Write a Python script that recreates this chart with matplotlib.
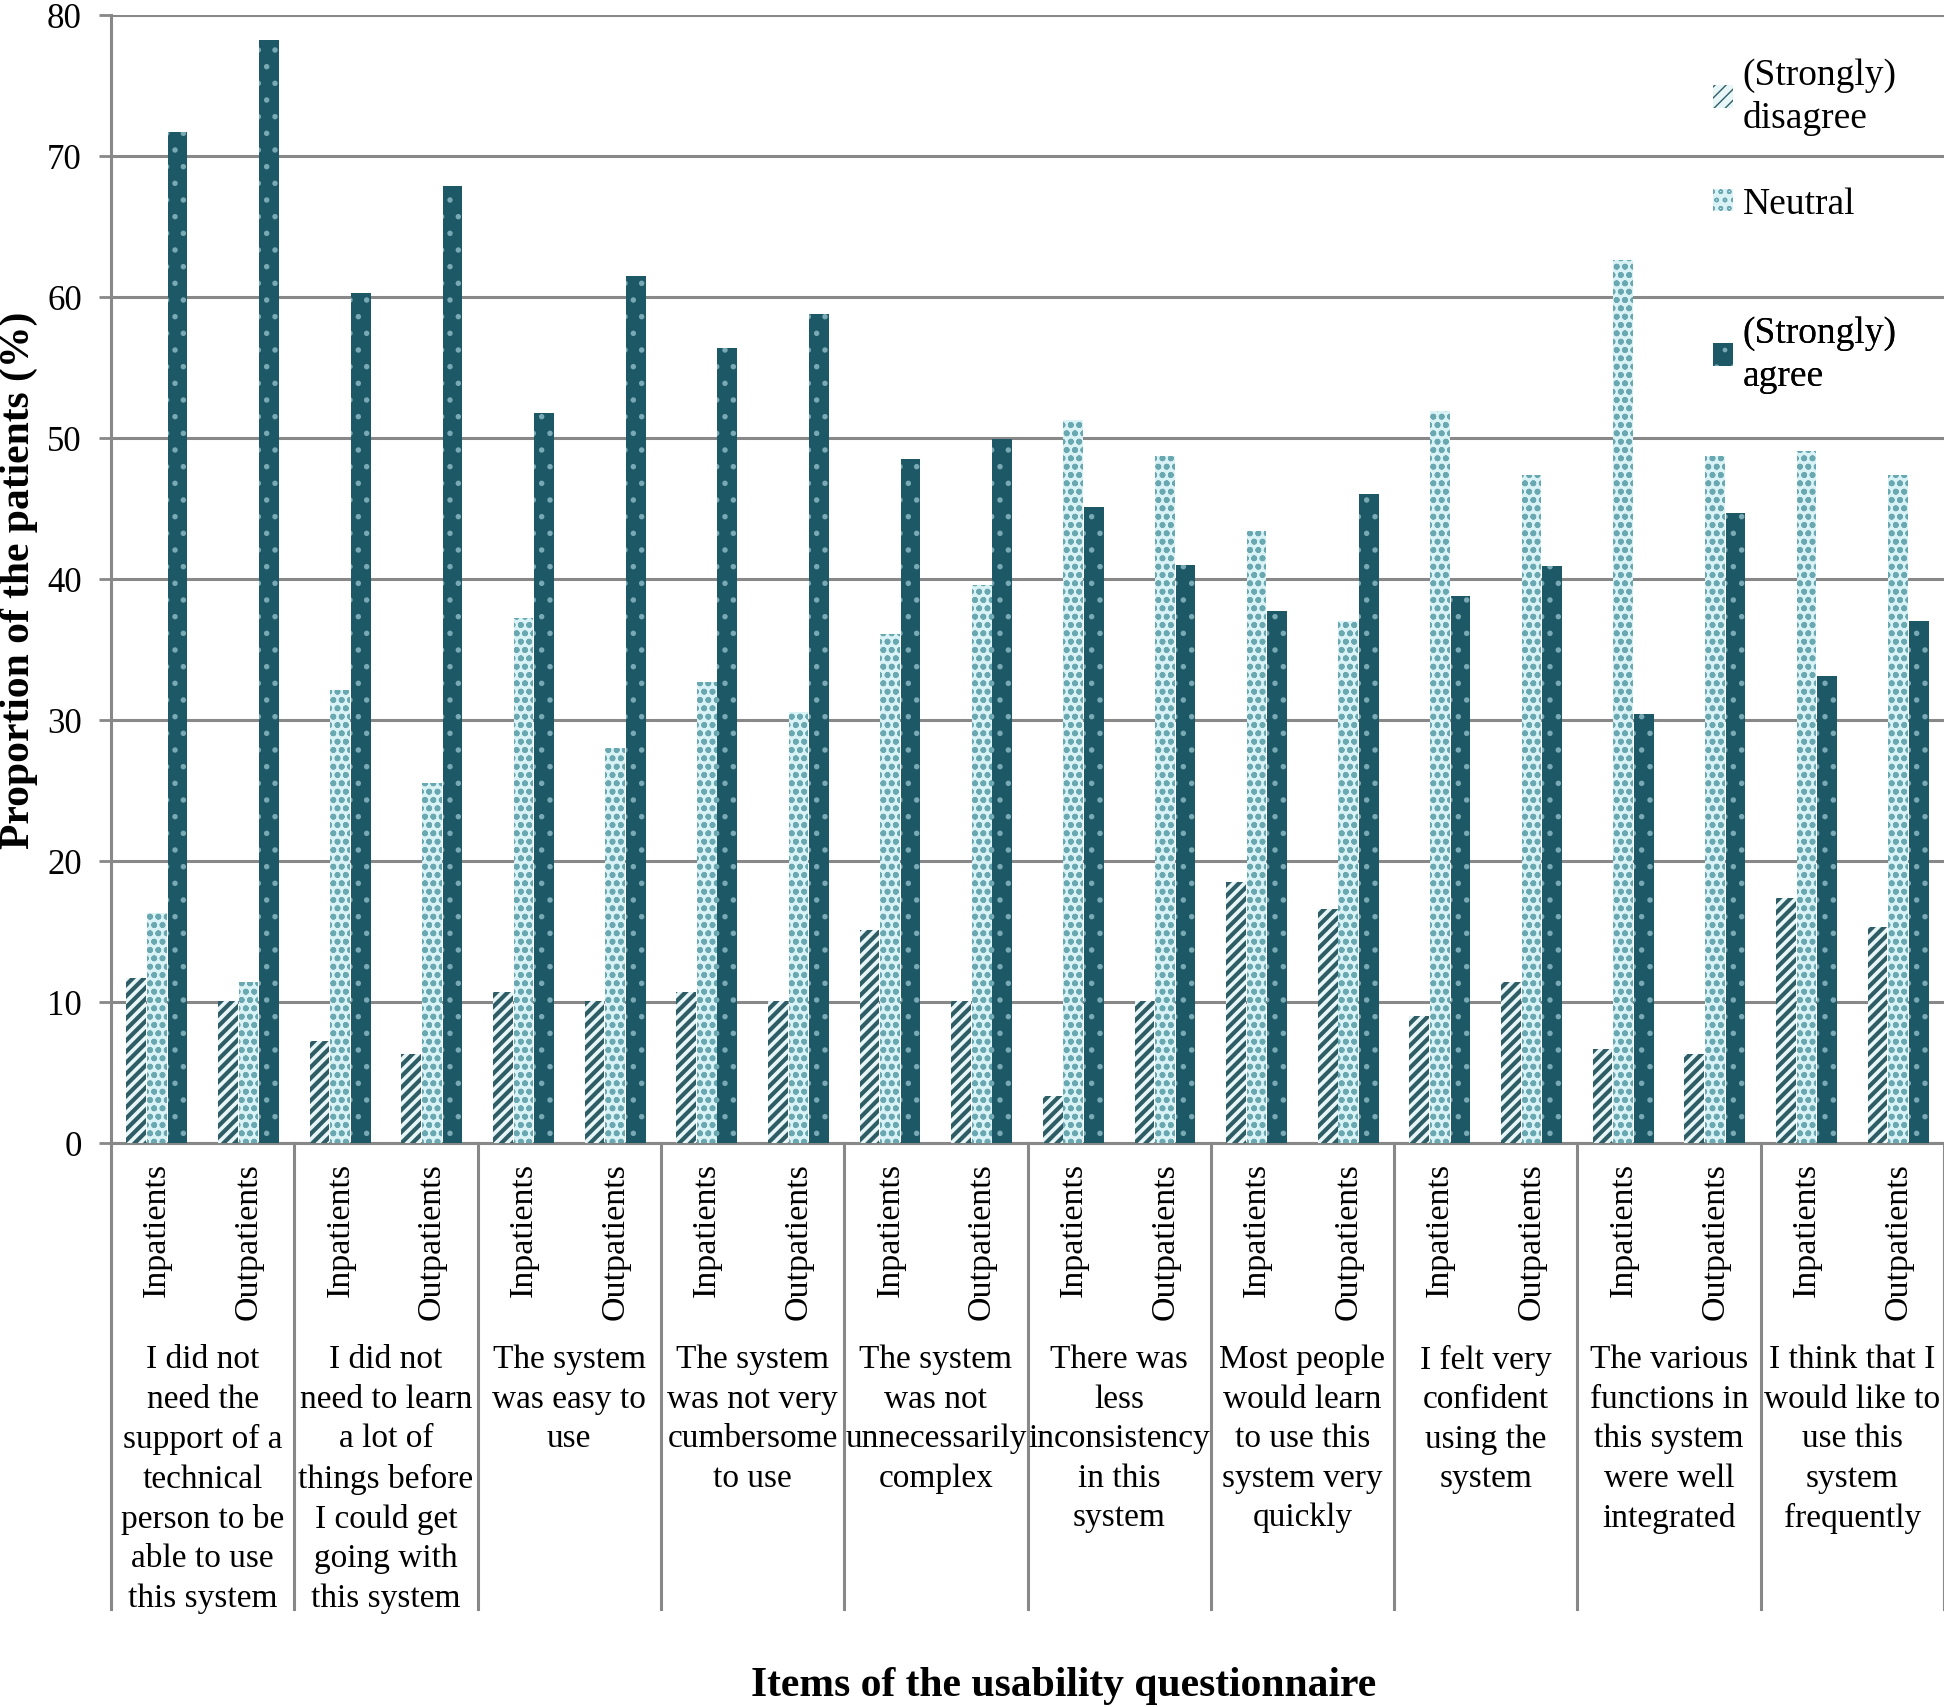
import numpy as np
import matplotlib
matplotlib.use("Agg")
import matplotlib.pyplot as plt
from matplotlib.patches import Patch

# data (percent of patients)
items = ["I did not\nneed the\nsupport of a\ntechnical\nperson to be\nable to use\nthis system",
         "I did not\nneed to learn\na lot of\nthings before\nI could get\ngoing with\nthis system",
         "The system\nwas easy to\nuse",
         "The system\nwas not very\ncumbersome\nto use",
         "The system\nwas not\nunnecessarily\ncomplex",
         "There was\nless\ninconsistency\nin this\nsystem",
         "Most people\nwould learn\nto use this\nsystem very\nquickly",
         "I felt very\nconfident\nusing the\nsystem",
         "The various\nfunctions in\nthis system\nwere well\nintegrated",
         "I think that I\nwould like to\nuse this\nsystem\nfrequently"]
groups = ["Inpatients", "Outpatients"]

# order: item1 in, item1 out, item2 in, ...
disagree = [11.7, 10.1, 7.2, 6.3, 10.7, 10.1, 10.7, 10.1, 15.1, 10.1,
            3.3, 10.1, 18.5, 16.6, 9.0, 11.4, 6.7, 6.3, 17.4, 15.3]
neutral = [16.3, 11.4, 32.1, 25.5, 37.2, 28.0, 32.7, 30.6, 36.1, 39.6,
           51.3, 48.7, 43.4, 37.0, 51.9, 47.4, 62.6, 48.7, 49.1, 47.4]
agree = [71.7, 78.2, 60.3, 67.9, 51.8, 61.5, 56.4, 58.8, 48.5, 49.9,
         45.1, 41.0, 37.7, 46.0, 38.8, 40.9, 30.4, 44.7, 33.1, 37.0]

plt.rcParams['font.family'] = ['Liberation Serif', 'DejaVu Serif']

fig = plt.figure(figsize=(19.44, 17.08), dpi=100)
ax = fig.add_axes([111/1944, 1 - 1144/1708, 1 - 111/1944, (1144 - 16)/1708])

x = np.arange(len(agree))
w = 0.215
step = 0.225
# values, label, face, hatch colour, hatch, hatch linewidth
styles = [
    (disagree, "(Strongly)\ndisagree", "#e8f6f8", "#2f5d65", "///", 3.0),
    (neutral, "Neutral", "#d9f2f5", "#6aa8b1", "oo", 1.8),
    (agree, "(Strongly)\nagree", "#1d5866", "#78a9b4", ".", 1.5),
]
handles = []
for k, (vals, lab, fc, hc, hatch, hlw) in enumerate(styles):
    with plt.rc_context({'hatch.linewidth': hlw}):
        bars = ax.bar(x + (k - 1) * step, vals, width=w, color=fc, edgecolor=hc,
                      hatch=hatch, linewidth=0, zorder=3)
        p = Patch(facecolor=fc, edgecolor=hc, hatch=hatch, linewidth=0, label=lab)
    for b in list(bars) + [p]:
        if hasattr(b, 'set_hatch_linewidth'):
            b.set_hatch_linewidth(hlw)
    handles.append(p)

ax.set_xlim(-0.5, len(agree) - 0.5)
ax.set_ylim(0, 80)
ax.set_yticks(np.arange(0, 81, 10))
ax.tick_params(axis='y', labelsize=25, length=9, width=2, color='#888888', pad=12)
ax.set_xticks([])
ax.yaxis.grid(True, color='#888888', linewidth=2.2, zorder=0)
ax.set_axisbelow(True)
for s in ['top', 'right']:
    ax.spines[s].set_visible(False)
ax.spines['left'].set_color('#888888')
ax.spines['left'].set_linewidth(2.2)
ax.spines['bottom'].set_color('#888888')
ax.spines['bottom'].set_linewidth(2.2)

# multi-level category axis
trans = ax.get_xaxis_transform()
sep_bottom = -(1610 - 1144) / 1128
for b in np.arange(-0.5, len(agree), 2):
    ax.plot([b, b], [0, sep_bottom], transform=trans, color='#888888',
            linewidth=2.2, clip_on=False)
for i in x:
    ax.text(i, -19 / 1128, groups[i % 2], transform=trans, rotation=90,
            ha='center', va='top', fontsize=24.5)
for g, txt in enumerate(items):
    ax.text(2 * g + 0.5, -(1345 - 1144) / 1128, txt, transform=trans,
            ha='center', va='top', fontsize=24, linespacing=1.38)

fig.text(19 / 1944, 1 - 580 / 1708, "Proportion of the patients (%)",
         rotation=90, ha='center', va='center', fontsize=30, fontweight='bold')
fig.text(1064 / 1944, 1 - 1686 / 1708, "Items of the usability questionnaire",
         ha='center', va='center', fontsize=30, fontweight='bold')

# legend entries are spaced unevenly in the original, so one legend each
for h, top in zip(handles, [40, 169, 298]):
    leg = ax.legend(handles=[h], loc='upper left',
                    bbox_to_anchor=(1694 / 1944, 1 - top / 1708),
                    bbox_transform=fig.transFigure,
                    frameon=False, fontsize=27, handlelength=0.55, handleheight=0.55,
                    handletextpad=0.25, borderpad=0)
    for t in leg.get_texts():
        t.set_linespacing(1.3)
    ax.add_artist(leg)

fig.savefig("out.png", dpi=100)
